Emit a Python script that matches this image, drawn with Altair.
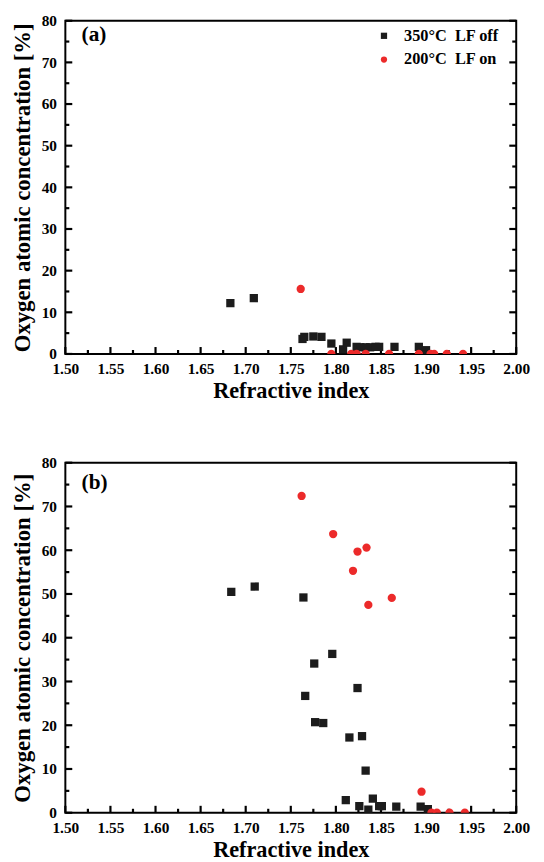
import altair as alt
import pandas as pd

SERIES = ["350°C \u00a0LF off", "200°C \u00a0LF on"]
COLORS = ["#1c1c1c", "#ec2a2a"]
SHAPES = ["square", "circle"]

# ---- panel (a) ----
a_off_x = [1.683, 1.709, 1.763, 1.765, 1.775, 1.784, 1.795, 1.808, 1.812, 1.823,
           1.827, 1.833, 1.838, 1.844, 1.848, 1.865, 1.892, 1.900]
a_off_y = [12.2, 13.4, 3.6, 4.1, 4.2, 4.1, 2.5, 1.1, 2.7, 1.7,
           1.6, 1.6, 1.6, 1.7, 1.7, 1.7, 1.7, 0.9]
a_on_x = [1.761, 1.795, 1.817, 1.823, 1.833, 1.859, 1.892, 1.905, 1.909, 1.923, 1.941]
a_on_y = [15.6, 0, 0, 0, 0, 0, 0, 0, 0, 0, 0]

# ---- panel (b) ----
b_off_x = [1.684, 1.710, 1.764, 1.766, 1.776, 1.777, 1.786, 1.796, 1.811, 1.815,
           1.824, 1.826, 1.829, 1.833, 1.836, 1.841, 1.848, 1.851, 1.867, 1.894, 1.902]
b_off_y = [50.5, 51.7, 49.2, 26.7, 34.1, 20.7, 20.5, 36.3, 2.9, 17.2,
           28.5, 1.5, 17.5, 9.6, 0.7, 3.2, 1.5, 1.5, 1.4, 1.4, 0.8]
b_on_x = [1.762, 1.797, 1.819, 1.824, 1.834, 1.836, 1.862, 1.895, 1.906, 1.912, 1.926, 1.943]
b_on_y = [72.4, 63.7, 55.3, 59.7, 60.6, 47.5, 49.1, 4.8, 0, 0, 0, 0]

# panel tags (label, x, y in data units)
tag_text = ["(a)", "(b)"]
tag_x = [1.518, 1.518]
tag_y = [76.5, 75.3]

# axis ranges and tick positions
X_DOMAIN = [1.5, 2.0]
Y_DOMAIN = [0, 80]
X_TICKS = [1.50, 1.525, 1.55, 1.575, 1.60, 1.625, 1.65, 1.675, 1.70, 1.725, 1.75,
           1.775, 1.80, 1.825, 1.85, 1.875, 1.90, 1.925, 1.95, 1.975, 2.00]
Y_TICKS = [0, 5, 10, 15, 20, 25, 30, 35, 40, 45, 50, 55, 60, 65, 70, 75, 80]
X_MAJOR_VALS = X_TICKS[0::2]
X_MINOR_VALS = X_TICKS[1::2]
Y_MAJOR_VALS = Y_TICKS[0::2]
Y_MINOR_VALS = Y_TICKS[1::2]

FONT = "Liberation Serif"
W = 456

xscale = alt.Scale(domain=X_DOMAIN, nice=False, zero=False)
yscale = alt.Scale(domain=Y_DOMAIN, nice=False)

xaxis = alt.Axis(values=X_MAJOR_VALS, format=".2f", ticks=False, domain=False, grid=False,
                 title="Refractive index", labelFlush=False, labelPadding=8, titlePadding=2.5)
yaxis = alt.Axis(values=Y_MAJOR_VALS, format="d", ticks=False, domain=False, grid=False,
                 labelFlush=False, title="Oxygen atomic concentration [%]",
                 labelPadding=9, titlePadding=7, titleFontSize=23)


def frame(off_x, off_y, on_x, on_y):
    d1 = pd.DataFrame({"n": off_x, "o": off_y, "s": SERIES[0]})
    d2 = pd.DataFrame({"n": on_x, "o": on_y, "s": SERIES[1]})
    return pd.concat([d1, d2], ignore_index=True)


# short inward tick bars along the frame, in data units (drawn as thin bars)
def y_bars(vals, edge, dx, dy):
    df = pd.DataFrame({
        "x1": [edge] * len(vals), "x2": [edge + dx] * len(vals),
        "y1": [v - dy for v in vals], "y2": [v + dy for v in vals],
    })
    return alt.Chart(df).mark_rect(color="black", opacity=1).encode(
        x=alt.X("x1:Q", scale=xscale, axis=xaxis), x2="x2:Q",
        y=alt.Y("y1:Q", scale=yscale, axis=yaxis), y2="y2:Q")


def x_bars(vals, dy, dx):
    df = pd.DataFrame({
        "x1": [v - dx for v in vals], "x2": [v + dx for v in vals],
        "y1": [Y_DOMAIN[0]] * len(vals), "y2": [Y_DOMAIN[0] + dy] * len(vals),
    })
    return alt.Chart(df).mark_rect(color="black", opacity=1).encode(
        x=alt.X("x1:Q", scale=xscale, axis=xaxis), x2="x2:Q",
        y=alt.Y("y1:Q", scale=yscale, axis=yaxis), y2="y2:Q")


def panel(df, idx, h, ly):
    legend = alt.Legend(
        title=None, orient="none", legendX=314, legendY=ly,
        symbolSize=40, labelOffset=12, rowPadding=7, padding=0,
        labelFont=FONT, labelFontSize=16.5, labelFontWeight="bold", labelColor="black",
        symbolStrokeWidth=0,
    )
    pts = alt.Chart(df).mark_point(filled=True, opacity=1, size=70, clip=True).encode(
        x=alt.X("n:Q", scale=xscale, axis=xaxis),
        y=alt.Y("o:Q", scale=yscale, axis=yaxis),
        color=alt.Color("s:N", scale=alt.Scale(domain=SERIES, range=COLORS), legend=legend),
        shape=alt.Shape("s:N", scale=alt.Scale(domain=SERIES, range=SHAPES), legend=legend),
    )
    tag_df = pd.DataFrame({"t": [tag_text[idx]], "n": [tag_x[idx]], "o": [tag_y[idx]]})
    tag = alt.Chart(tag_df).mark_text(
        align="left", baseline="middle", font=FONT, fontSize=21.5, fontWeight="bold", color="black"
    ).encode(
        x=alt.X("n:Q", scale=xscale, axis=xaxis),
        y=alt.Y("o:Q", scale=yscale, axis=yaxis),
        text="t:N",
    )
    px = (X_DOMAIN[1] - X_DOMAIN[0]) / W
    py = (Y_DOMAIN[1] - Y_DOMAIN[0]) / h
    ticks = [
        y_bars(Y_MAJOR_VALS, X_DOMAIN[0], 7 * px, 1.1 * py),
        y_bars(Y_MINOR_VALS, X_DOMAIN[0], 4 * px, 1.1 * py),
        y_bars(Y_MAJOR_VALS, X_DOMAIN[1], -7 * px, 1.1 * py),
        y_bars(Y_MINOR_VALS, X_DOMAIN[1], -4 * px, 1.1 * py),
        x_bars(X_MAJOR_VALS, 7 * py, 1.1 * px),
        x_bars(X_MINOR_VALS, 4 * py, 1.1 * px),
    ]
    return alt.layer(*ticks, pts, tag).properties(width=W, height=h)


top = panel(frame(a_off_x, a_off_y, a_on_x, a_on_y), 0, 337, 7)
bottom = panel(frame(b_off_x, b_off_y, b_on_x, b_on_y), 1, 354, 11)

chart = alt.vconcat(top, bottom, spacing=52).properties(
    padding={"left": 2, "top": 0, "right": 5, "bottom": 0}
).configure_view(stroke="black", strokeWidth=2).configure_axis(
    labelFont=FONT, labelFontSize=15.5, labelFontWeight="bold", labelColor="black",
    titleFont=FONT, titleFontSize=22.5, titleFontWeight="bold", titleColor="black",
).configure_legend(symbolStrokeWidth=0)

chart.save("out.html", embed_options={"renderer": "svg", "actions": False})
